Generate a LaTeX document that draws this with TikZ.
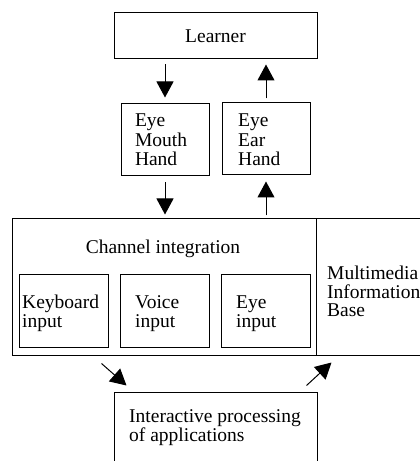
\documentclass[tikz,border=0pt]{standalone}
\usepackage{fontspec}
\setmainfont{Liberation Serif}
\usetikzlibrary{arrows.meta,calc}
\begin{document}
\begin{tikzpicture}[x=1pt,y=1pt,
  every node/.style={font=\fontsize{19.5pt}{18.5pt}\selectfont, inner sep=0pt},
  box/.style={draw, line width=1pt, inner ysep=0pt},
  txtbox/.style={box, align=left},
  arr/.style={line width=1pt, -{Triangle[width=17pt,length=16pt]}}]
\useasboundingbox (0,0) rectangle (420,461);
\clip (0,0) rectangle (420,461);
% top
\node[box, minimum width=203pt, minimum height=46pt] (learner) at (215.5,425) {Learner};
\node[txtbox, minimum width=88pt, minimum height=72pt, text width=60pt, inner xsep=14pt,
      font=\fontsize{19.5pt}{19.5pt}\selectfont] (emh) at (165,321) {Eye\\Mouth\\Hand};
\node[box, minimum width=88pt, minimum height=72pt] (eeh) at (266,322) {};
\node[align=left, anchor=west, font=\fontsize{19.5pt}{19.5pt}\selectfont] (eehtext) at (238,321) {Eye\\Ear\\Hand};
% channel integration
\node[box, minimum width=304pt, minimum height=137pt] (chan) at (164,173.5) {};
\node[anchor=base] (chtitle) at (163,207) {Channel integration};
\node[box, minimum width=89pt, minimum height=73pt] (kb) at (63.5,149.5) {};
\node[align=left, anchor=west] (kbtext) at (22,147.5) {Keyboard\\input};
\node[box, minimum width=89pt, minimum height=73pt] (voice) at (164.5,149.5) {};
\node[align=left, anchor=west] (voicetext) at (135,147.5) {Voice\\input};
\node[box, minimum width=89pt, minimum height=73pt] (eyein) at (265.5,149.5) {};
\node[align=left, anchor=west] (eyeintext) at (236,147.5) {Eye\\input};
% multimedia base
\node[box, minimum width=120pt, minimum height=137pt] (mm) at (376,173.5) {};
\node[align=left, anchor=west] (mmtext) at (327,169.5) {Multimedia\\Information\\Base};
% processing
\node[box, minimum width=203pt, minimum height=69pt] (proc) at (215.5,33.5) {};
\node[align=left, anchor=west] (proctext) at (129,33.5) {Interactive processing\\of applications};
% connectors
\draw[arr, shorten <=5pt, shorten >=6pt] (learner.south -| emh.north) -- (emh.north);
\draw[arr, shorten <=4pt, shorten >=5pt] (eeh.north) -- (eeh.north |- learner.south);
\draw[arr, shorten <=6pt, shorten >=4pt] (emh.south) -- (emh.south |- chan.north);
\draw[arr, shorten <=3pt, shorten >=6pt] (eeh.south |- chan.north) -- (eeh.south);
\draw[arr] ($(chan.south west)+(90,-7)$) -- ($(proc.north west)+(13,7)$);
\draw[arr] ($(proc.north east)+(-11,7)$) -- ($(mm.south west)+(16,-6)$);
\end{tikzpicture}
\end{document}
